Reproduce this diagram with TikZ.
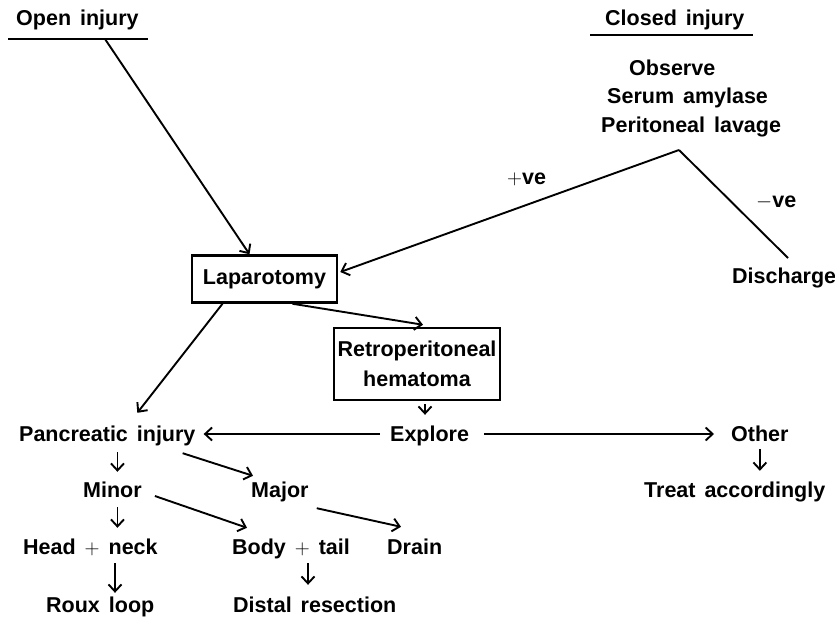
\documentclass[tikz,border=0pt]{standalone}
\usepackage{fontspec}
\setmainfont{Liberation Sans}[WordSpace=1.5]
\usetikzlibrary{arrows.meta}
\begin{document}
\begin{tikzpicture}[x=1pt,y=-1pt,
  txt/.style={anchor=base west, inner sep=1pt, text height=15pt, text depth=5pt,
    font=\fontsize{21.5}{26}\selectfont\bfseries},
  box/.style={draw, line width=2.5pt, inner sep=2pt, align=center,
    font=\fontsize{21.5}{30}\selectfont\bfseries},
  ln/.style={line width=1.9pt},
  arr/.style={ln, -{Straight Barb[length=7pt,width=13pt]}}]
\useasboundingbox[fill=white] (0,0) rectangle (835,619);

% headings
\node[txt] (open) at (15,25) {Open injury};
\draw[ln] ([shift={(-7,14)}]open.base west) -- ([shift={(8,14)}]open.base east);
\node[txt] (closed) at (604,25) {Closed injury};
\draw[ln] ([shift={(-14,10)}]closed.base west) -- ([shift={(7,10)}]closed.base east);
\coordinate (oi) at (105,39);

\node[txt] (observe) at (628,75) {Observe};
\node[txt] (serum) at (606,103) {Serum amylase};
\node[txt] (lavage) at (600,132) {Peritoneal lavage};
\coordinate (pk) at (679,150);
\coordinate (dtop) at (788,258);
\node[txt] (plus) at (506,184) {$+$ve};
\node[txt] (minus) at (755,207) {$-$ve};
\node[txt] (dis) at (731,283) {Discharge};

% boxes
\node[box, minimum width=145pt, minimum height=47pt] (lap) at (264.5,279) {Laparotomy};
\node[box, minimum width=166pt, minimum height=72pt] (retro) at (417,364) {Retroperitoneal\\hematoma};

% rows
\node[txt] (pi) at (18,441) {Pancreatic injury};
\node[txt] (exp) at (389,441) {Explore};
\node[txt] (oth) at (730,441) {Other};
\node[txt] (minor) at (82,497) {Minor};
\node[txt] (major) at (250,497) {Major};
\node[txt] (treat) at (643,497) {Treat accordingly};
\node[txt] (head) at (22,554) {Head $+$ neck};
\node[txt] (body) at (231,554) {Body $+$ tail};
\node[txt] (drain) at (386,554) {Drain};
\node[txt] (roux) at (45,612) {Roux loop};
\node[txt] (distal) at (232,612) {Distal resection};

% connectors
\draw[arr] (oi) -- ([xshift=-15pt]lap.north);
\draw[arr] (pk) -- ([shift={(2,-7)}]lap.east);
\draw[ln] (pk) -- (dtop);
\draw[arr] ([xshift=-42pt]lap.south) -- ([shift={(30,-12)}]pi.north);
\draw[arr] ([xshift=28pt]lap.south) -- ([shift={(6,-2)}]retro.north);
\draw[arr, shorten <=3pt, shorten >=10pt] ([xshift=8pt]retro.south) -- ([xshift=8pt]retro.south |- exp.north);
\draw[arr, shorten <=9pt, shorten >=7pt] ([yshift=2pt]exp.west) -- ([yshift=2pt]pi.east);
\draw[arr, shorten <=14pt, shorten >=16pt] ([yshift=2pt]exp.east) -- ([yshift=2pt]oth.west);
\draw[arr, shorten <=2pt, shorten >=10pt] (oth.south) -- (oth.south |- treat.north);
\draw[arr, shorten <=5pt, shorten >=9pt] ([xshift=5pt]minor.north |- pi.south) -- ([xshift=5pt]minor.north);
\draw[arr] ([shift={(-14,6)}]pi.south east) -- ([shift={(3,-5)}]major.north west);
\draw[arr, shorten <=4pt, shorten >=10pt] ([xshift=5pt]minor.south) -- ([xshift=5pt]minor.south |- head.north);
\draw[arr] ([shift={(12,4)}]minor.east) -- ([shift={(16,-10)}]body.north west);
\draw[arr] ([shift={(7,5)}]major.south east) -- ([shift={(15,-11)}]drain.north west);
\draw[arr, shorten <=3pt, shorten >=3pt] ([xshift=93pt]head.south west) -- ([xshift=93pt]head.south west |- roux.north);
\draw[arr, shorten <=3pt, shorten >=11pt] ([xshift=77pt]body.south west) -- ([xshift=77pt]body.south west |- distal.north);
\end{tikzpicture}
\end{document}
